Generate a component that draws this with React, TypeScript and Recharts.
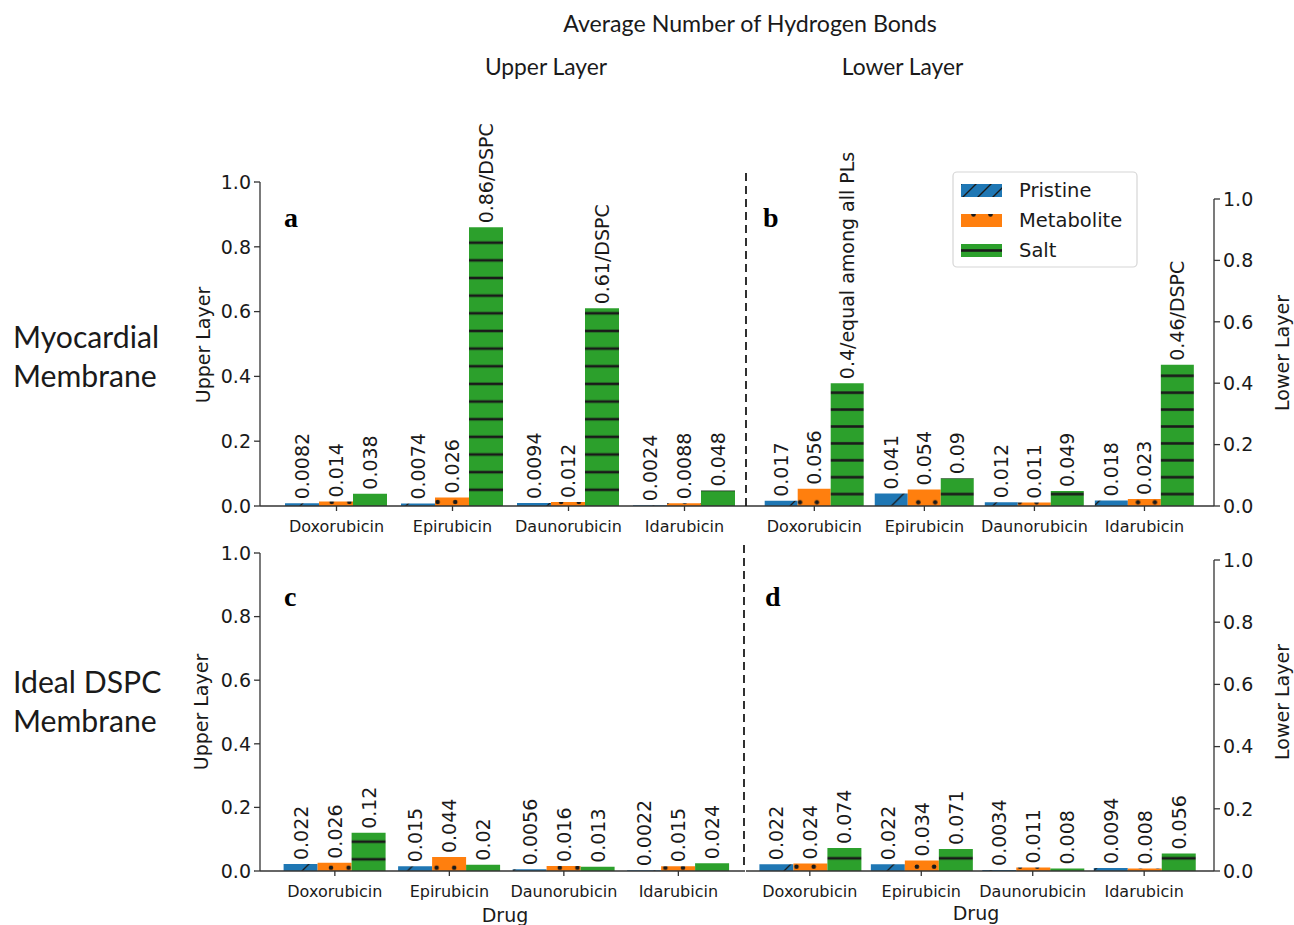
import React from 'react';
import { BarChart, Bar, XAxis, YAxis, LabelList } from 'recharts';

// ---------- data ----------
const drugs = ['Doxorubicin', 'Epirubicin', 'Daunorubicin', 'Idarubicin'];
const seriesNames = ['Pristine', 'Metabolite', 'Salt'];
const yTicks = [0, 0.2, 0.4, 0.6, 0.8, 1.0];

// (a) Myocardial membrane, upper layer
const aPristine = [0.0082, 0.0074, 0.0094, 0.0024];
const aMetabolite = [0.014, 0.026, 0.012, 0.0088];
const aSalt = [0.038, 0.86, 0.61, 0.048];
const aSaltLabels = ['0.038', '0.86/DSPC', '0.61/DSPC', '0.048'];

// (b) Myocardial membrane, lower layer
const bPristine = [0.017, 0.041, 0.012, 0.018];
const bMetabolite = [0.056, 0.054, 0.011, 0.023];
const bSalt = [0.4, 0.09, 0.049, 0.46];
const bSaltLabels = ['0.4/equal among all PLs', '0.09', '0.049', '0.46/DSPC'];

// (c) Ideal DSPC membrane, upper layer
const cPristine = [0.022, 0.015, 0.0056, 0.0022];
const cMetabolite = [0.026, 0.044, 0.016, 0.015];
const cSalt = [0.12, 0.02, 0.013, 0.024];
const cSaltLabels = ['0.12', '0.02', '0.013', '0.024'];

// (d) Ideal DSPC membrane, lower layer
const dPristine = [0.022, 0.022, 0.0034, 0.0094];
const dMetabolite = [0.024, 0.034, 0.011, 0.008];
const dSalt = [0.074, 0.071, 0.008, 0.056];
const dSaltLabels = ['0.074', '0.071', '0.008', '0.056'];

const buildRows = (p: number[], m: number[], s: number[], sl: string[]) =>
  drugs.map((drug, i) => ({ drug, pristine: p[i], metabolite: m[i], salt: s[i], saltLabel: sl[i] }));

// ---------- styles ----------
const BLUE = '#1f77b4';
const ORANGE = '#ff7f0e';
const GREEN = '#2ca02c';
const INK = '#1a1a1a';
const AXIS = '#333333';
const MPL_FONT = '"DejaVu Sans", sans-serif';
const HEAD_FONT = 'Lato, "Open Sans", sans-serif';

type Panel = {
  id: string;
  left: number;
  top: number;
  width: number;
  height: number;
  margin: { top: number; right: number; bottom: number; left: number };
  side: 'left' | 'right';
  axisW: number;
  padL: number;
  padR: number;
  gap: number;
  period: number;
  lineY: number;
  dotX: number;
  dotY: number;
  diagX: number;
  baseY: number;
  rows: ReturnType<typeof buildRows>;
};

const panels: Panel[] = [
  {
    id: 'a', left: 180, top: 110, width: 580, height: 440,
    margin: { top: 72, right: 14, bottom: 14, left: 20 }, side: 'left', axisW: 60,
    padL: 18.5, padR: 3.5, gap: 6.5,
    period: 17.65, lineY: 242.7, dotX: 331.7, dotY: 502, diagX: 300, baseY: 506,
    rows: buildRows(aPristine, aMetabolite, aSalt, aSaltLabels),
  },
  {
    id: 'b', left: 740, top: 110, width: 554, height: 440,
    margin: { top: 89, right: 0, bottom: 14, left: 6 }, side: 'right', axisW: 80,
    padL: 13.3, padR: 14.5, gap: 5.4,
    period: 16.9, lineY: 392.7, dotX: 800, dotY: 502.3, diagX: 790, baseY: 506,
    rows: buildRows(bPristine, bMetabolite, bSalt, bSaltLabels),
  },
  {
    id: 'c', left: 180, top: 540, width: 580, height: 385,
    margin: { top: 13, right: 15, bottom: 24, left: 20 }, side: 'left', axisW: 60,
    padL: 17.6, padR: 9.4, gap: 6,
    period: 17.6, lineY: 841.7, dotX: 331, dotY: 867.7, diagX: 302, baseY: 871,
    rows: buildRows(cPristine, cMetabolite, cSalt, cSaltLabels),
  },
  {
    id: 'd', left: 740, top: 540, width: 554, height: 385,
    margin: { top: 20, right: 0, bottom: 24, left: 6 }, side: 'right', axisW: 80,
    padL: 8.1, padR: 14.1, gap: 5.3,
    period: 17.2, lineY: 858.3, dotX: 796.5, dotY: 866.7, diagX: 784, baseY: 871,
    rows: buildRows(dPristine, dMetabolite, dSalt, dSaltLabels),
  },
];

function makeDefs(c: Panel) {
  const P = c.period;
  const D = 2 * P; // diagonal hatch spacing (sparser, as in the reference)
  const ox = c.left;
  const oy = c.top;
  return (
    <defs>
      <pattern id={`pr-${c.id}`} patternUnits="userSpaceOnUse" width={D} height={D}
        x={c.diagX - ox} y={c.baseY - oy}>
        <rect width={D} height={D} fill={BLUE} />
        <path d={`M0,${D} L${D},0 M-1,1 L1,-1 M${D - 1},${D + 1} L${D + 1},${D - 1}`}
          stroke={INK} strokeWidth={1.3} />
      </pattern>
      <pattern id={`me-${c.id}`} patternUnits="userSpaceOnUse" width={P} height={2 * P}
        x={c.dotX - ox - P / 2} y={c.dotY - oy - P / 2}>
        <rect width={P} height={2 * P} fill={ORANGE} />
        <circle cx={P / 2} cy={P / 2} r={2.3} fill={INK} />
        <circle cx={0} cy={1.5 * P} r={2.3} fill={INK} />
        <circle cx={P} cy={1.5 * P} r={2.3} fill={INK} />
      </pattern>
      <pattern id={`sa-${c.id}`} patternUnits="userSpaceOnUse" width={P} height={P}
        x={0} y={c.lineY - oy - P / 2}>
        <rect width={P} height={P} fill={GREEN} />
        <line x1={0} x2={P} y1={P / 2} y2={P / 2} stroke={INK} strokeWidth={2.6} />
      </pattern>
    </defs>
  );
}

const fmtNum = (v: any) => (typeof v === 'number' ? String(v) : String(v ?? ''));

const renderBarLabel = (props: any) => {
  const { x, y, width, value } = props;
  const cx = Number(x) + Number(width) / 2;
  const ty = Number(y) - 4;
  return (
    <text x={cx} y={ty} transform={`rotate(-90 ${cx} ${ty})`} textAnchor="start"
      dominantBaseline="central" fontSize={19} fontFamily={MPL_FONT} fill={INK}>
      {fmtNum(value)}
    </text>
  );
};

function PanelChart({ c }: { c: Panel }) {
  return (
    <div style={{ position: 'absolute', left: c.left, top: c.top }}>
      <BarChart width={c.width} height={c.height} data={c.rows} margin={c.margin}
        barGap={0} barCategoryGap={c.gap}>
        {makeDefs(c)}
        <XAxis dataKey="drug" type="category" interval={0} height={30}
          padding={{ left: c.padL, right: c.padR }}
          tickSize={5} tickMargin={10}
          axisLine={{ stroke: AXIS, strokeWidth: 1.3 }}
          tickLine={{ stroke: AXIS, strokeWidth: 1.3 }}
          tick={{ fontSize: 16, fill: INK, fontFamily: MPL_FONT }} />
        <YAxis type="number" domain={[0, 1]} ticks={yTicks} interval={0}
          orientation={c.side} width={c.axisW}
          tickFormatter={(v: number) => v.toFixed(1)}
          tickSize={6} tickMargin={3}
          axisLine={{ stroke: AXIS, strokeWidth: 1.3 }}
          tickLine={{ stroke: AXIS, strokeWidth: 1.3 }}
          tick={{ fontSize: 19, fill: INK, fontFamily: MPL_FONT }} />
        <Bar dataKey="pristine" name={seriesNames[0]} fill={`url(#pr-${c.id})`} isAnimationActive={false}>
          <LabelList dataKey="pristine" content={renderBarLabel} />
        </Bar>
        <Bar dataKey="metabolite" name={seriesNames[1]} fill={`url(#me-${c.id})`} isAnimationActive={false}>
          <LabelList dataKey="metabolite" content={renderBarLabel} />
        </Bar>
        <Bar dataKey="salt" name={seriesNames[2]} fill={`url(#sa-${c.id})`} isAnimationActive={false}>
          <LabelList dataKey="saltLabel" content={renderBarLabel} />
        </Bar>
      </BarChart>
    </div>
  );
}

function Overlay() {
  const legendY = [184, 214, 244];
  const legendFills = ['url(#lg-pr)', 'url(#lg-me)', 'url(#lg-sa)'];
  return (
    <svg width={1294} height={925} style={{ position: 'absolute', left: 0, top: 0, pointerEvents: 'none' }}>
      <defs>
        <pattern id="lg-pr" patternUnits="userSpaceOnUse" width={15} height={15} x={961} y={184}>
          <rect width={15} height={15} fill={BLUE} />
          <path d="M0,15 L15,0 M-1,1 L1,-1 M14,16 L16,14" stroke={INK} strokeWidth={1.4} />
        </pattern>
        <pattern id="lg-me" patternUnits="userSpaceOnUse" width={17} height={34} x={965} y={206}>
          <rect width={17} height={34} fill={ORANGE} />
          <circle cx={8.5} cy={8.5} r={2.3} fill={INK} />
          <circle cx={0} cy={25.5} r={2.3} fill={INK} />
          <circle cx={17} cy={25.5} r={2.3} fill={INK} />
        </pattern>
        <pattern id="lg-sa" patternUnits="userSpaceOnUse" width={17} height={17} x={0} y={242}>
          <rect width={17} height={17} fill={GREEN} />
          <line x1={0} x2={17} y1={8.5} y2={8.5} stroke={INK} strokeWidth={2.6} />
        </pattern>
      </defs>

      {/* headers */}
      <text x={750} y={31.7} textAnchor="middle" fontFamily={HEAD_FONT} fontSize={23.2} fill={INK}>
        Average Number of Hydrogen Bonds
      </text>
      <text x={546} y={75} textAnchor="middle" fontFamily={HEAD_FONT} fontSize={22.8} fill={INK}>Upper Layer</text>
      <text x={902.6} y={75} textAnchor="middle" fontFamily={HEAD_FONT} fontSize={22.8} fill={INK}>Lower Layer</text>

      {/* row labels */}
      <text x={13} y={348} fontFamily={HEAD_FONT} fontSize={30.2} fill={INK}>Myocardial</text>
      <text x={13} y={387} fontFamily={HEAD_FONT} fontSize={30.2} fill={INK}>Membrane</text>
      <text x={13} y={693} fontFamily={HEAD_FONT} fontSize={30.2} fill={INK}>Ideal DSPC</text>
      <text x={13} y={732} fontFamily={HEAD_FONT} fontSize={30.2} fill={INK}>Membrane</text>

      {/* panel letters */}
      <text x={284} y={227} fontFamily='"Liberation Serif", serif' fontWeight="bold" fontSize={28} fill="#000">a</text>
      <text x={763} y={227} fontFamily='"Liberation Serif", serif' fontWeight="bold" fontSize={28} fill="#000">b</text>
      <text x={284} y={606} fontFamily='"Liberation Serif", serif' fontWeight="bold" fontSize={28} fill="#000">c</text>
      <text x={765} y={606} fontFamily='"Liberation Serif", serif' fontWeight="bold" fontSize={28} fill="#000">d</text>

      {/* axis titles */}
      <text x={203} y={345} transform="rotate(-90 203 345)" textAnchor="middle" dominantBaseline="central"
        fontFamily={MPL_FONT} fontSize={19} fill={INK}>Upper Layer</text>
      <text x={201} y={712} transform="rotate(-90 201 712)" textAnchor="middle" dominantBaseline="central"
        fontFamily={MPL_FONT} fontSize={19} fill={INK}>Upper Layer</text>
      <text x={1282} y={353} transform="rotate(-90 1282 353)" textAnchor="middle" dominantBaseline="central"
        fontFamily={MPL_FONT} fontSize={19} fill={INK}>Lower Layer</text>
      <text x={1282} y={702} transform="rotate(-90 1282 702)" textAnchor="middle" dominantBaseline="central"
        fontFamily={MPL_FONT} fontSize={19} fill={INK}>Lower Layer</text>
      <text x={505} y={922} textAnchor="middle" fontFamily={MPL_FONT} fontSize={19} fill={INK}>Drug</text>
      <text x={976} y={920} textAnchor="middle" fontFamily={MPL_FONT} fontSize={19} fill={INK}>Drug</text>

      {/* panel separators */}
      <line x1={746} x2={746} y1={173} y2={506} stroke={INK} strokeWidth={1.8} strokeDasharray="8 5" />
      <line x1={744} x2={744} y1={545} y2={869} stroke={INK} strokeWidth={1.8} strokeDasharray="8 5" />

      {/* legend */}
      <rect x={953} y={172} width={184} height={95} rx={4} fill="#fff" stroke="#d6d6d6" strokeWidth={1.2} />
      {seriesNames.map((n, i) => (
        <g key={n}>
          <rect x={961} y={legendY[i]} width={41} height={13} fill={legendFills[i]} />
          <text x={1019} y={legendY[i] + 13} fontFamily={MPL_FONT} fontSize={19.5} fill={INK}>{n}</text>
        </g>
      ))}
    </svg>
  );
}

export default function App() {
  return (
    <div style={{ position: 'absolute', left: 0, top: 0, width: 1294, height: 925, background: '#fff', overflow: 'hidden' }}>
      {panels.map((c) => (
        <PanelChart key={c.id} c={c} />
      ))}
      <Overlay />
    </div>
  );
}
